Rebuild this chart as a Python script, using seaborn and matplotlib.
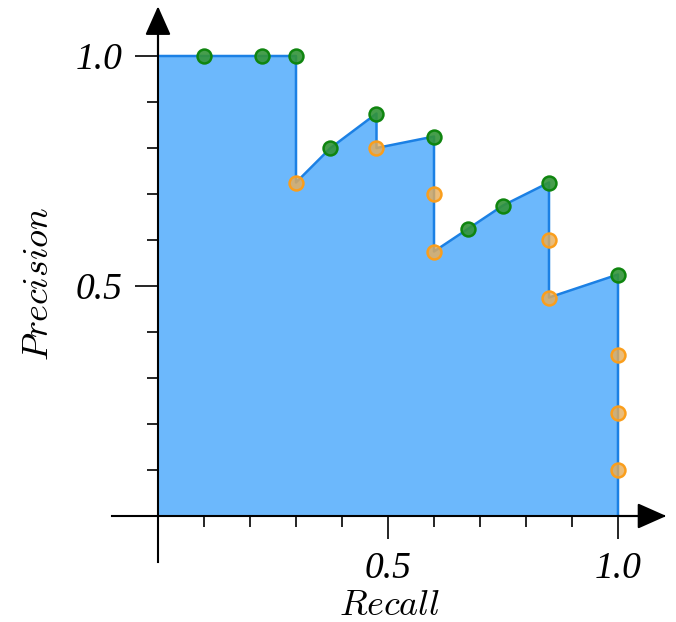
import numpy as np
import pandas as pd
import matplotlib
matplotlib.use("Agg")
import matplotlib.pyplot as plt
import seaborn as sns

# precision/recall curve outline (top edge of the filled area)
curve_recall = [0.0, 0.3, 0.3, 0.375, 0.475, 0.475, 0.6, 0.6, 0.675, 0.75, 0.85, 0.85, 1.0, 1.0]
curve_precision = [1.0, 1.0, 0.725, 0.8, 0.875, 0.8, 0.825, 0.575, 0.625, 0.675, 0.725, 0.475, 0.525, 0.0]

# relevant hits (green) and misses (orange)
hit_recall = [0.1, 0.225, 0.3, 0.375, 0.475, 0.6, 0.675, 0.75, 0.85, 1.0]
hit_precision = [1.0, 1.0, 1.0, 0.8, 0.875, 0.825, 0.625, 0.675, 0.725, 0.525]
miss_recall = [0.3, 0.475, 0.6, 0.6, 0.85, 0.85, 1.0, 1.0, 1.0]
miss_precision = [0.725, 0.8, 0.7, 0.575, 0.6, 0.475, 0.35, 0.225, 0.1]

tick_minor = [0.1, 0.2, 0.3, 0.4, 0.6, 0.7, 0.8, 0.9]
tick_major = [0.5, 1.0]
tick_labels = ["0.5", "1.0"]

sns.set_style("white")
plt.rcParams["mathtext.fontset"] = "cm"
plt.rcParams["text.color"] = "black"

fig = plt.figure(figsize=(6.76, 6.22), dpi=100)
ax = fig.add_axes([112 / 676, 60 / 622, 552 / 676, 552 / 622])

curve = pd.DataFrame({"recall": curve_recall, "precision": curve_precision})
hits = pd.DataFrame({"recall": hit_recall, "precision": hit_precision})
misses = pd.DataFrame({"recall": miss_recall, "precision": miss_precision})

ax.fill_between(curve["recall"], curve["precision"], 0, color="#6cb8fc", lw=0, zorder=1)
sns.lineplot(data=curve, x="recall", y="precision", sort=False, estimator=None,
             color="#1b80e4", lw=1.8, ax=ax, zorder=2)
sns.scatterplot(data=misses, x="recall", y="precision", s=100,
                color=(0.9, 0.68, 0.35, 0.8), edgecolor="#fa9e1c", linewidth=1.8,
                ax=ax, zorder=3, clip_on=False)
sns.scatterplot(data=hits, x="recall", y="precision", s=100,
                color=(0.2, 0.58, 0.22, 0.9), edgecolor="#0f850f", linewidth=1.8,
                ax=ax, zorder=3, clip_on=False)

ax.set_xlim(-0.1, 1.1)
ax.set_ylim(-0.1, 1.1)

for side in ["top", "right"]:
    ax.spines[side].set_visible(False)
for side in ["left", "bottom"]:
    ax.spines[side].set_position(("data", 0))
    ax.spines[side].set_linewidth(1.5)
    ax.spines[side].set_color("black")
    ax.spines[side].set_zorder(4)

# arrow heads
arrow = dict(arrowstyle="-|>,head_length=0.9,head_width=0.4", mutation_scale=20,
             color="black", lw=1.5, shrinkA=0, shrinkB=0)
ax.annotate("", xy=(1.105, 0), xytext=(1.0, 0), arrowprops=arrow, annotation_clip=False)
ax.annotate("", xy=(0, 1.108), xytext=(0, 1.0), arrowprops=arrow, annotation_clip=False)

tick_font = dict(family="Liberation Serif", style="italic", size=27, color="black")
ax.set_xticks(tick_major)
ax.set_xticklabels(tick_labels, fontdict=tick_font)
ax.set_xticks(tick_minor, minor=True)
ax.set_yticks(tick_major)
ax.set_yticklabels(tick_labels, fontdict=tick_font)
ax.set_yticks(tick_minor, minor=True)

ax.tick_params(which="major", direction="out", length=16.5, width=1.2,
               color="black", pad=9, bottom=True, left=True)
ax.tick_params(which="minor", direction="out", length=8, width=1.2,
               color="black", bottom=True, left=True)

ax.set_xlabel("")
ax.set_ylabel("")
fig.text(390 / 676, 1 - 605 / 622, r"$\mathit{Recall}$", fontsize=26,
         ha="center", va="center")
fig.text(38 / 676, 1 - 284 / 622, r"$\mathit{Precision}$", fontsize=26,
         ha="center", va="center", rotation=90)

fig.savefig("out.png", dpi=100)
plt.close(fig)
